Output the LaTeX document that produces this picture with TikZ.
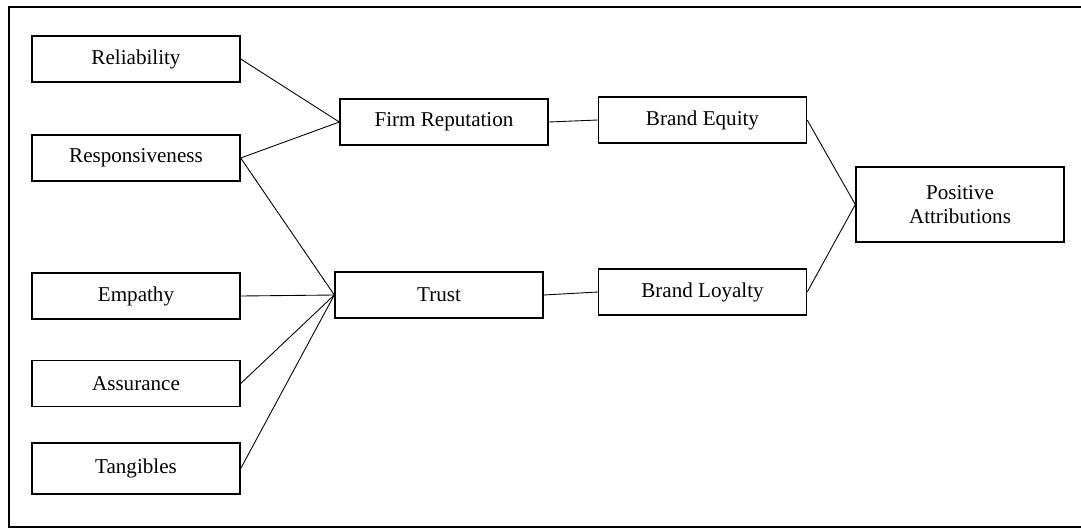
\documentclass[tikz,border=0pt]{standalone}
\usepackage{fontspec}
\setmainfont{Liberation Serif}
\usetikzlibrary{positioning}

\begin{document}
\begin{tikzpicture}[font=\fontsize{12}{14}\selectfont,
  box/.style={draw,line width=.8pt,minimum width=4.16cm,minimum height=.92cm,inner sep=0pt,align=center},
  link/.style={line width=.5pt}]
  \useasboundingbox (0,0) rectangle (21.62,10.58);
  \clip (0,0) rectangle (21.62,10.58);
  \draw[line width=1.1pt] (.18,.04) rectangle (21.70,10.44);

  % service quality dimensions
  \node[box] (rel) at (2.72,9.40) {Reliability};
  \node[box] (resp) at (2.72,7.42) {Responsiveness};
  \node[box] (emp) at (2.72,4.66) {Empathy};
  \node[box] (assur) at (2.72,2.91) {Assurance};
  \node[box,minimum height=1.02cm] (tang) at (2.72,1.21) {Tangibles};

  % mediators and outcomes
  \node[box] (rep) at (8.88,8.14) {Firm Reputation};
  \node[box] (trust) at (8.78,4.68) {Trust};
  \node[box] (equity) at (14.05,8.18) {Brand Equity};
  \node[box] (loyal) at (14.05,4.74) {Brand Loyalty};
  \node[box,minimum height=1.5cm] (attr) at (19.20,6.49) {Positive\\Attributions};

  \draw[link] (rel.east)--(rep.west);
  \draw[link] (resp.east)--(rep.west);
  \draw[link] (resp.east)--(trust.west);
  \draw[link] (emp.east)--(trust.west);
  \draw[link] (assur.east)--(trust.west);
  \draw[link] (tang.east)--(trust.west);
  \draw[link] (rep.east)--(equity.west);
  \draw[link] (trust.east)--(loyal.west);
  \draw[link] (equity.east)--(attr.west);
  \draw[link] (loyal.east)--(attr.west);
\end{tikzpicture}
\end{document}
